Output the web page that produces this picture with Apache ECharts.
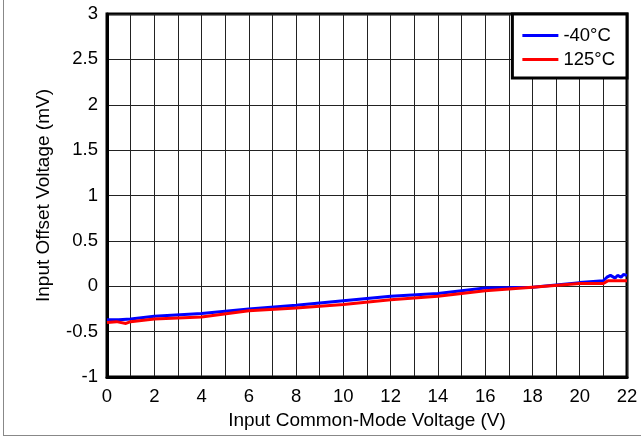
<!DOCTYPE html>
<html>
<head>
<meta charset="utf-8">
<script src="https://cdn.jsdelivr.net/npm/echarts@6/dist/echarts.min.js"></script>
<style>
  html, body { margin: 0; padding: 0; background: #fff; }
  #chart { width: 641px; height: 436px; }
</style>
</head>
<body>
<div id="chart"></div>
<script>
// Input offset voltage vs common-mode voltage
const seriesNames = ['-40°C', '125°C']
const vcmCold = [0, 0.5, 1, 2, 4, 6, 8, 10, 12, 14, 16, 18, 20, 21, 21.15, 21.3, 21.5, 21.6, 21.75, 21.85, 22]
const vosCold = [-0.37, -0.37, -0.36, -0.33, -0.30, -0.25, -0.21, -0.16, -0.11, -0.08, -0.02, -0.01, 0.04, 0.06, 0.10, 0.12, 0.09, 0.12, 0.10, 0.13, 0.12]
const vcmHot = [0, 0.4, 0.8, 1, 2, 4, 6, 8, 10, 12, 14, 16, 18, 20, 21, 21.2, 21.4, 22]
const vosHot = [-0.40, -0.39, -0.41, -0.39, -0.36, -0.34, -0.27, -0.24, -0.20, -0.15, -0.11, -0.05, -0.01, 0.03, 0.03, 0.06, 0.06, 0.06]

const chart = echarts.init(document.getElementById('chart'))
const font = 'Liberation Sans, Arial, sans-serif'

chart.setOption({
  animation: false,
  backgroundColor: '#fff',
  grid: {
    left: 107,
    right: 14,
    top: 14,
    bottom: 59,
    show: true,
    borderColor: '#000',
    borderWidth: 3
  },
  legend: {
    data: seriesNames,
    orient: 'vertical',
    right: 14,
    top: 14,
    backgroundColor: '#fff',
    borderColor: '#000',
    borderWidth: 3,
    padding: [12, 12, 9, 10],
    itemGap: 5,
    itemWidth: 36,
    itemHeight: 3,
    icon: 'rect',
    textStyle: { fontFamily: font, fontSize: 18.5, color: '#000' }
  },
  xAxis: {
    type: 'value',
    min: 0,
    max: 22,
    interval: 1,
    name: 'Input Common-Mode Voltage (V)',
    nameLocation: 'middle',
    nameGap: 34,
    nameTextStyle: { fontFamily: font, fontSize: 19, color: '#000' },
    axisLine: { show: true, onZero: false, lineStyle: { color: '#000', width: 3 } },
    axisTick: { show: false },
    axisLabel: {
      margin: 10,
      fontFamily: font,
      fontSize: 18.5,
      color: '#000',
      formatter: v => (v % 2 === 0 ? String(v) : '')
    },
    splitLine: { show: true, lineStyle: { color: '#222', width: 1 } }
  },
  yAxis: {
    type: 'value',
    min: -1,
    max: 3,
    interval: 0.5,
    name: 'Input Offset Voltage (mV)',
    nameLocation: 'middle',
    nameGap: 54,
    nameTextStyle: { fontFamily: font, fontSize: 19, color: '#000' },
    axisLine: { show: true, onZero: false, lineStyle: { color: '#000', width: 3 } },
    axisTick: { show: false },
    axisLabel: { margin: 9, fontFamily: font, fontSize: 18.5, color: '#000' },
    splitLine: { show: true, lineStyle: { color: '#222', width: 1 } }
  },
  series: [
    {
      name: seriesNames[0],
      type: 'line',
      data: vcmCold.map((x, i) => [x, vosCold[i]]),
      showSymbol: false,
      color: '#0000ff',
      lineStyle: { width: 3 },
      z: 3
    },
    {
      name: seriesNames[1],
      type: 'line',
      data: vcmHot.map((x, i) => [x, vosHot[i]]),
      showSymbol: false,
      color: '#ff0000',
      lineStyle: { width: 3 },
      z: 4
    }
  ],
  graphic: [
    { type: 'line', shape: { x1: 3.5, y1: 0, x2: 3.5, y2: 435 }, style: { stroke: '#888', lineWidth: 1 } },
    { type: 'line', shape: { x1: 3, y1: 435.5, x2: 641, y2: 435.5 }, style: { stroke: '#888', lineWidth: 1 } }
  ]
})
</script>
</body>
</html>
